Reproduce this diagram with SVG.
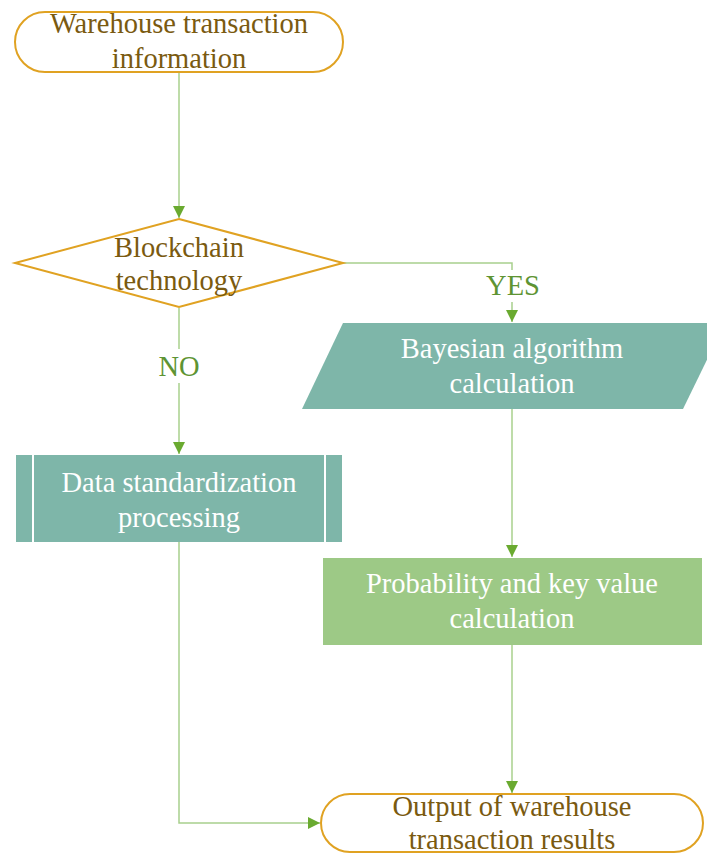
<svg xmlns="http://www.w3.org/2000/svg" width="707" height="853" viewBox="0 0 707 853">
<style>
.term{fill:#fff;stroke:#E0A222;stroke-width:2}
.dia{fill:#fff;stroke:#E0A222;stroke-width:2}
.teal{fill:#7EB6A9}
.grn{fill:#9DC986}
.t{font-family:"Liberation Serif",serif;font-size:28.5px;text-anchor:middle}
.dk{fill:#7A5A10}
.wh{fill:#fff}
.lbl{fill:#5E9433}
.ln{fill:none;stroke:#A8D08D;stroke-width:1.5}
</style>
<defs>
<marker id="ah" markerUnits="userSpaceOnUse" markerWidth="12" markerHeight="12" viewBox="0 0 12 12" refX="12" refY="6" orient="auto">
<path d="M0,0 L12,6 L0,12 Z" fill="#6AAA30"/>
</marker>
</defs>
<g id="connectors">
<path class="ln" d="M179,72 V218" marker-end="url(#ah)"/>
<path class="ln" d="M343,263 H512 V322" marker-end="url(#ah)"/>
<path class="ln" d="M179,308 V454" marker-end="url(#ah)"/>
<path class="ln" d="M512,409 V557" marker-end="url(#ah)"/>
<path class="ln" d="M512,645 V793" marker-end="url(#ah)"/>
<path class="ln" d="M179,542 V823 H320" marker-end="url(#ah)"/>
<rect x="488" y="270" width="48" height="32" fill="#fff"/>
<text class="t lbl" x="513" y="295">YES</text>
<rect x="156" y="349" width="46" height="34" fill="#fff"/>
<text class="t lbl" x="179" y="376">NO</text>
</g>
<g id="start">
<rect class="term" x="15" y="12" width="328" height="60" rx="30" ry="30"/>
<text class="t dk" x="179" y="33">Warehouse transaction</text>
<text class="t dk" x="179" y="68">information</text>
</g>
<g id="decision">
<polygon class="dia" points="179,219 343,263 179,307 15,263"/>
<text class="t dk" x="179" y="257">Blockchain</text>
<text class="t dk" x="179" y="290">technology</text>
</g>
<g id="bayesian">
<polygon class="teal" points="343,323 725,323 683,409 302,409"/>
<text class="t wh" x="512" y="358">Bayesian algorithm</text>
<text class="t wh" x="512" y="393">calculation</text>
</g>
<g id="standardization">
<rect class="teal" x="16" y="455" width="326" height="87"/>
<line x1="33" y1="455" x2="33" y2="542" stroke="#fff" stroke-width="2"/>
<line x1="325" y1="455" x2="325" y2="542" stroke="#fff" stroke-width="2"/>
<text class="t wh" x="179" y="492">Data standardization</text>
<text class="t wh" x="179" y="527">processing</text>
</g>
<g id="probability">
<rect class="grn" x="323" y="558" width="379" height="87"/>
<text class="t wh" x="512" y="593">Probability and key value</text>
<text class="t wh" x="512" y="628">calculation</text>
</g>
<g id="output">
<rect class="term" x="321" y="794" width="382" height="58" rx="29" ry="29"/>
<text class="t dk" x="512" y="816">Output of warehouse</text>
<text class="t dk" x="512" y="849">transaction results</text>
</g>
</svg>
